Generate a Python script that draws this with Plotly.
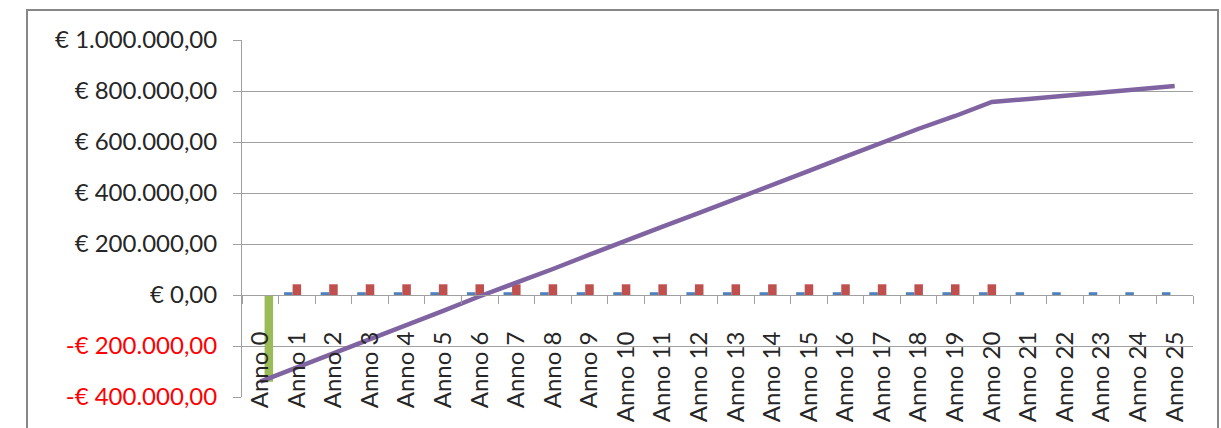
import plotly.graph_objects as go

categories = ["Anno %d" % i for i in range(26)]

serie_blu = [0, 11000, 11000, 11000, 11000, 11000, 11000, 11000, 11000, 11000,
             11000, 11000, 11000, 11000, 11000, 11000, 11000, 11000, 11000, 11000,
             11000, 11000, 11000, 11000, 11000, 11000]
serie_rossa = [0, 42000, 42000, 42000, 42000, 42000, 42000, 42000, 42000, 42000,
               42000, 42000, 42000, 42000, 42000, 42000, 42000, 42000, 42000, 42000,
               42000, 0, 0, 0, 0, 0]
serie_verde = [-340000, 0, 0, 0, 0, 0, 0, 0, 0, 0,
               0, 0, 0, 0, 0, 0, 0, 0, 0, 0,
               0, 0, 0, 0, 0, 0]
cumulato = [-340000, -285000, -230000, -175000, -118000, -62000, -5000, 47000, 102000, 158000,
            215000, 268000, 322000, 376000, 430000, 487000, 543000, 598000, 652000, 702000,
            757000, 769000, 781000, 794000, 807000, 820000]

tick_vals = [-400000, -200000, 0, 200000, 400000, 600000, 800000, 1000000]
tick_text = ['<span style="color:#FF0000">-€ 400.000,00</span>',
             '<span style="color:#FF0000">-€ 200.000,00</span>',
             "€ 0,00", "€ 200.000,00", "€ 400.000,00", "€ 600.000,00",
             "€ 800.000,00", "€ 1.000.000,00"]

W, H = 1221, 428
L, R, T, B = 242, 28, 40, 31
pw, ph = W - L - R, H - T - B

fig = go.Figure()
fig.add_trace(go.Bar(x=categories, y=serie_blu, marker_color="#4F81BD", marker_line_width=0))
fig.add_trace(go.Bar(x=categories, y=serie_rossa, marker_color="#C0504D", marker_line_width=0))
fig.add_trace(go.Bar(x=categories, y=serie_verde, marker_color="#9BBB59", marker_line_width=0))
fig.add_trace(go.Scatter(x=categories, y=cumulato, mode="lines",
                         line=dict(color="#8064A2", width=4.5)))

grid = "#A0A0A0"
fig.update_layout(
    width=W, height=H, autosize=False,
    margin=dict(l=L, r=R, t=T, b=B, pad=0),
    paper_bgcolor="white", plot_bgcolor="white",
    showlegend=False,
    barmode="group", bargap=0.30, bargroupgap=0,
    font=dict(family="Lato, 'Liberation Sans', sans-serif", size=24, color="#262626"),
    xaxis=dict(
        type="category", anchor="free", position=400000 / 1400000,
        showline=True, linecolor=grid, linewidth=1,
        ticks="outside", ticklen=8, tickcolor=grid, tickwidth=1,
        tickson="boundaries", showgrid=False,
        tickangle=-90, ticklabelstandoff=26, automargin=False,
        tickfont=dict(size=24, color="#262626"),
        range=[-0.5, 25.5],
    ),
    yaxis=dict(
        range=[-400000, 1000000], tickvals=tick_vals, ticktext=tick_text,
        showline=True, linecolor=grid, linewidth=1,
        ticks="outside", ticklen=8, tickcolor=grid,
        showgrid=True, gridcolor=grid, gridwidth=1,
        zeroline=False, ticklabelstandoff=11, automargin=False,
        tickfont=dict(size=24, color="#262626"),
    ),
    shapes=[dict(type="rect", xref="paper", yref="paper",
                 x0=(27 - L) / pw, x1=(1218 - L) / pw,
                 y0=(H - B - 460) / ph, y1=(H - B - 10) / ph,
                 line=dict(color="#878787", width=2), fillcolor="rgba(0,0,0,0)",
                 layer="below")],
)

fig.write_html("out.html")
